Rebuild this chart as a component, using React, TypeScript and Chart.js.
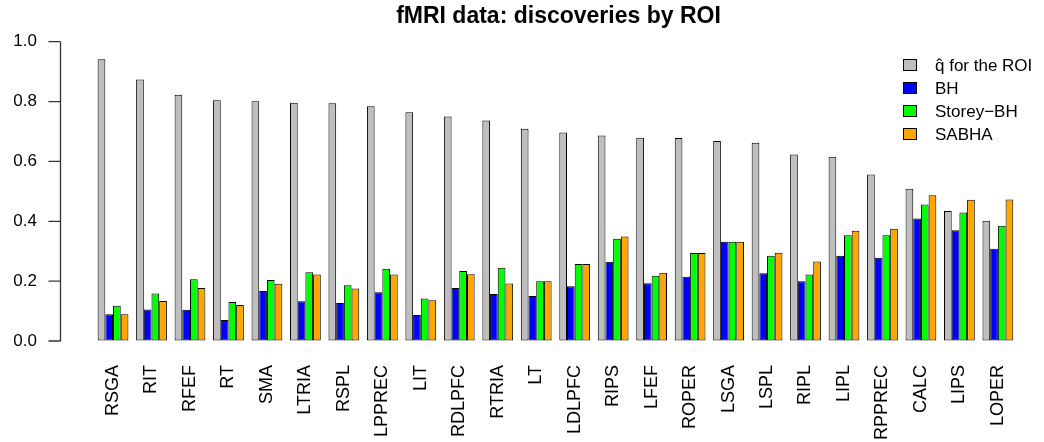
import React, { useEffect, useRef } from 'react';
import { Chart, registerables } from 'chart.js';

Chart.register(...registerables);

const FONT = '"Liberation Sans", Arial, Helvetica, sans-serif';

const categories = ['RSGA', 'RIT', 'RFEF', 'RT', 'SMA', 'LTRIA', 'RSPL', 'LPPREC', 'LIT', 'RDLPFC', 'RTRIA', 'LT', 'LDLPFC', 'RIPS', 'LFEF', 'ROPER', 'LSGA', 'LSPL', 'RIPL', 'LIPL', 'RPPREC', 'CALC', 'LIPS', 'LOPER'];
const qHat = [0.941, 0.874, 0.823, 0.804, 0.801, 0.796, 0.794, 0.784, 0.764, 0.750, 0.737, 0.709, 0.697, 0.687, 0.679, 0.678, 0.668, 0.662, 0.623, 0.616, 0.556, 0.509, 0.434, 0.402];
const bh = [0.089, 0.105, 0.104, 0.070, 0.167, 0.133, 0.127, 0.163, 0.087, 0.177, 0.157, 0.150, 0.183, 0.265, 0.193, 0.215, 0.332, 0.226, 0.200, 0.285, 0.278, 0.409, 0.370, 0.308];
const storeyBH = [0.118, 0.159, 0.206, 0.130, 0.204, 0.230, 0.186, 0.241, 0.142, 0.234, 0.245, 0.200, 0.257, 0.342, 0.218, 0.294, 0.332, 0.285, 0.222, 0.353, 0.353, 0.456, 0.429, 0.385];
const sabha = [0.089, 0.134, 0.177, 0.120, 0.191, 0.222, 0.175, 0.222, 0.136, 0.223, 0.192, 0.200, 0.257, 0.349, 0.228, 0.294, 0.332, 0.295, 0.266, 0.368, 0.375, 0.487, 0.472, 0.473];
const seriesLabels = ['q\u0302 for the ROI', 'BH', 'Storey\u2212BH', 'SABHA'];
const seriesColors = ['#BEBEBE', '#0000FF', '#00FF00', '#FFA500'];
const yTicks = [0, 0.2, 0.4, 0.6, 0.8, 1.0];
const title = 'fMRI data: discoveries by ROI';

const rAxisPlugin = {
  id: 'rAxis',
  afterDraw(chart: any) {
    const ctx = chart.ctx;
    const y = chart.scales.y;
    const axisX = 60.5;
    ctx.save();
    ctx.strokeStyle = '#333';
    ctx.lineWidth = 1.3;
    ctx.beginPath();
    ctx.moveTo(axisX, y.getPixelForValue(yTicks[0]));
    ctx.lineTo(axisX, y.getPixelForValue(yTicks[yTicks.length - 1]));
    yTicks.forEach((v) => {
      const py = y.getPixelForValue(v);
      ctx.moveTo(axisX - 12, py);
      ctx.lineTo(axisX, py);
    });
    ctx.stroke();
    ctx.restore();
  },
};

const rTitlePlugin = {
  id: 'rTitle',
  afterDraw(chart: any) {
    const ctx = chart.ctx;
    const a = chart.chartArea;
    ctx.save();
    ctx.font = `bold 23px ${FONT}`;
    ctx.fillStyle = '#000';
    ctx.textAlign = 'center';
    ctx.textBaseline = 'middle';
    ctx.fillText(title, (a.left + a.right) / 2 + 3, 17);
    ctx.restore();
  },
};

const rLegendPlugin = {
  id: 'rLegend',
  afterDraw(chart: any) {
    const ctx = chart.ctx;
    ctx.save();
    ctx.font = `17px ${FONT}`;
    ctx.textBaseline = 'middle';
    ctx.textAlign = 'left';
    chart.data.datasets.forEach((ds: any, i: number) => {
      const cy = 65 + i * 23;
      ctx.fillStyle = ds.backgroundColor;
      ctx.fillRect(903.5, cy - 5.5, 13, 11);
      ctx.strokeStyle = '#000';
      ctx.lineWidth = 1;
      ctx.strokeRect(903.5, cy - 5.5, 13, 11);
      ctx.fillStyle = '#000';
      ctx.fillText(ds.label, 935, cy + 1);
    });
    ctx.restore();
  },
};

export default function App() {
  const canvasRef = useRef<HTMLCanvasElement | null>(null);

  useEffect(() => {
    document.body.style.margin = '0';
    const canvas = canvasRef.current;
    if (!canvas) return;
    const series = [qHat, bh, storeyBH, sabha];
    const chart = new Chart(canvas, {
      type: 'bar',
      data: {
        labels: categories,
        datasets: series.map((d, i) => ({
          label: seriesLabels[i],
          data: d,
          backgroundColor: seriesColors[i],
          borderColor: '#000',
          borderWidth: 1,
          borderSkipped: false,
          categoryPercentage: 0.8,
          barPercentage: 1.0,
        })),
      },
      options: {
        animation: false,
        responsive: false,
        devicePixelRatio: 1,
        layout: { padding: { left: 0, right: 25, top: 41.7, bottom: 0 } },
        plugins: {
          legend: { display: false },
          tooltip: { enabled: false },
          title: { display: false },
        },
        scales: {
          x: {
            type: 'category',
            offset: true,
            grid: { display: false, drawTicks: false },
            border: { display: false },
            ticks: {
              autoSkip: false,
              minRotation: 90,
              maxRotation: 90,
              padding: 24,
              color: '#000',
              font: { family: FONT, size: 18 },
            },
            afterFit: (s: any) => {
              s.height = 101;
            },
          },
          y: {
            min: 0,
            max: 1,
            afterBuildTicks: (s: any) => {
              s.ticks = yTicks.map((v) => ({ value: v }));
            },
            grid: {
              display: true,
              drawOnChartArea: false,
              drawTicks: true,
              tickLength: 53.8,
              color: 'rgba(0,0,0,0)',
            },
            border: { display: false },
            ticks: {
              padding: 3,
              color: '#000',
              font: { family: FONT, size: 17 },
              callback: (v: any) => Number(v).toFixed(1),
            },
            afterFit: (s: any) => {
              s.width = 93.8;
            },
          },
        },
      },
      plugins: [rAxisPlugin, rTitlePlugin, rLegendPlugin],
    } as any);
    return () => chart.destroy();
  }, []);

  return (
    <div style={{ position: 'fixed', left: 0, top: 0, width: 1044, height: 442, background: '#fff' }}>
      <canvas ref={canvasRef} width={1044} height={442} style={{ display: 'block', width: 1044, height: 442 }} />
    </div>
  );
}
